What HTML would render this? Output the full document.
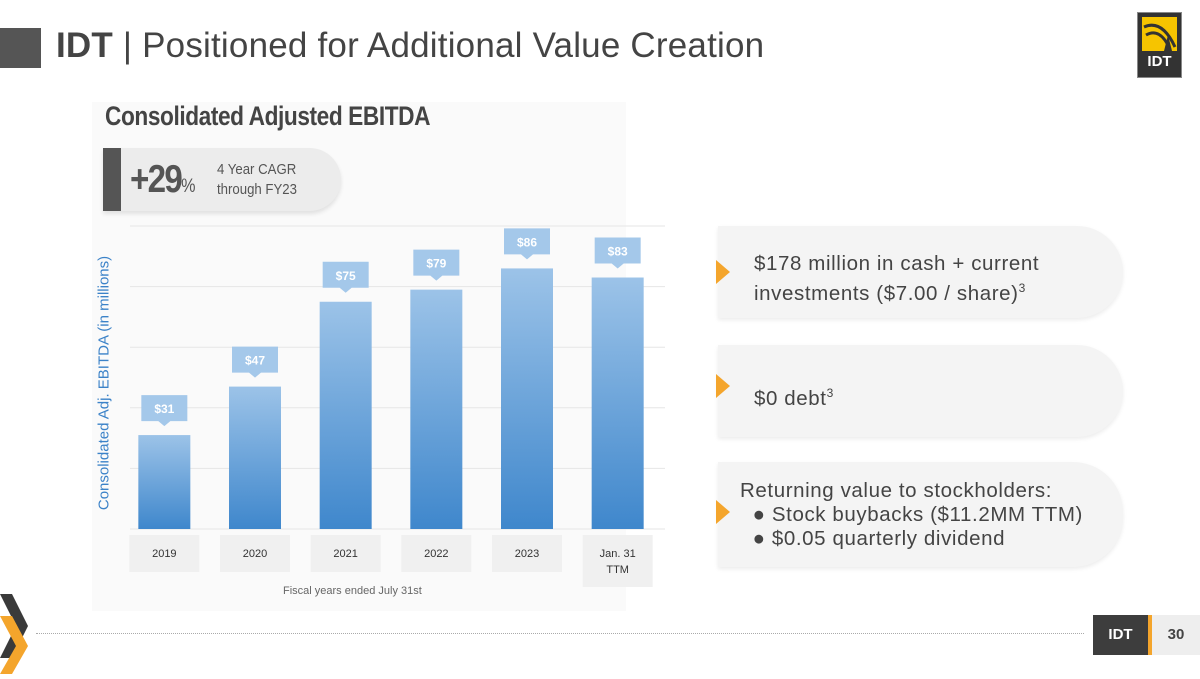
<!DOCTYPE html>
<html><head><meta charset="utf-8">
<style>
body{margin:0;width:1200px;height:674px;background:#fff;position:relative;overflow:hidden;font-family:"Liberation Sans",sans-serif}
.abs{position:absolute}
.card{position:absolute;left:718px;width:405px;background:#f4f4f4;border-radius:0 50px 50px 0;box-shadow:0 2px 4px rgba(0,0,0,0.08)}
.card .txt{position:absolute;left:36px;font-size:20.5px;color:#444;line-height:24px;letter-spacing:0.6px;white-space:nowrap}
.chev{position:absolute;left:716px;width:0;height:0;border-top:12px solid transparent;border-bottom:12px solid transparent;border-left:14px solid #f4a52c}
</style></head><body>
<div class="abs" style="left:0;top:28px;width:41px;height:40px;background:#555"></div>
<div class="abs" style="left:56px;top:26px;font-size:35px;color:#444;white-space:nowrap;letter-spacing:0.2px"><b>IDT</b> | Positioned for Additional Value Creation</div>
<div class="abs" style="left:1137px;top:12px;width:43px;height:64px;background:#333;border:1px solid #888">
 <div style="position:absolute;left:4px;top:4px;width:35px;height:34px;background:#f6c400;overflow:hidden">
  <svg width="35" height="34"><path d="M2,10 Q20,2 33,30" stroke="#333" stroke-width="3" fill="none"/><path d="M4,18 Q18,10 28,32" stroke="#333" stroke-width="3" fill="none"/><polygon points="22,34 26,18 30,34" fill="#333"/></svg>
 </div>
 <div style="position:absolute;left:0;top:40px;width:43px;text-align:center;color:#fff;font-weight:bold;font-size:15px">IDT</div>
</div>
<div class="abs" style="left:92px;top:102px;width:534px;height:509px;background:#fafafa"></div>
<div class="abs" style="left:105px;top:101px;font-size:27px;color:#444;font-weight:bold;letter-spacing:-0.5px;transform:scaleX(0.84);transform-origin:0 0;white-space:nowrap">Consolidated Adjusted EBITDA</div>
<div class="abs" style="left:103px;top:148px;width:238px;height:63px;background:#ececec;border-radius:0 32px 32px 0;box-shadow:0 3px 4px rgba(0,0,0,0.1)">
 <div style="position:absolute;left:0;top:0;width:18px;height:63px;background:#555"></div>
 <div style="position:absolute;left:27px;top:10px;font-size:39px;font-weight:bold;color:#555;letter-spacing:-2px;transform:scaleX(0.85);transform-origin:0 0;white-space:nowrap">+29<span style="font-size:19px;font-weight:normal;letter-spacing:0">%</span></div>
 <div style="position:absolute;left:114px;top:12px;font-size:15px;color:#555;line-height:20px;transform:scaleX(0.88);transform-origin:0 0;white-space:nowrap">4 Year CAGR<br>through FY23</div>
</div>
<div class="abs" style="left:104px;top:383px;transform:translate(-50%,-50%) rotate(-90deg);white-space:nowrap;color:#3b82c8;font-size:15px">Consolidated Adj. EBITDA (in millions)</div>
<svg class="abs" style="left:0;top:0" width="1200" height="674" id="chart">
<defs><linearGradient id="g" x1="0" y1="0" x2="0" y2="1"><stop offset="0" stop-color="#9cc3e8"/><stop offset="1" stop-color="#3f87cc"/></linearGradient></defs>
</svg>
<div class="abs" style="left:283px;top:585px;font-size:11px;color:#666">Fiscal years ended July 31st</div>
<div class="card" style="top:226px;height:92px"><div class="txt" style="top:26px">$178 million in cash + current<br>investments ($7.00 / share)<sup style="font-size:12px">3</sup></div></div>
<div class="chev" style="top:260px"></div>
<div class="card" style="top:345px;height:92px"><div class="txt" style="top:36px">$0 debt<sup style="font-size:12px">3</sup></div></div>
<div class="chev" style="top:374px"></div>
<div class="card" style="top:462px;height:105px"><div class="txt" style="left:22px;top:17px">Returning value to stockholders:<br>&nbsp;&nbsp;● Stock buybacks ($11.2MM TTM)<br>&nbsp;&nbsp;● $0.05 quarterly dividend</div></div>
<div class="chev" style="top:500px"></div>
<div class="abs" style="left:36px;top:633px;width:1048px;border-top:1px dotted #aaa"></div>
<div class="abs" style="left:0;top:594px;width:28px;height:80px">
<svg width="30" height="80"><polygon points="0,0 12,0 28,32 12,64 0,64 16,32" fill="#3a3a3a"/><polygon points="0,22 12,22 28,52 12,80 0,80 16,52" fill="#f4a52c"/></svg></div>
<div class="abs" style="left:1093px;top:615px;width:55px;height:40px;background:#3d3d3d;border-right:4px solid #f4a52c;color:#fff;font-weight:bold;font-size:15px;text-align:center;line-height:40px">IDT</div>
<div class="abs" style="left:1152px;top:615px;width:48px;height:40px;background:#eee;color:#444;font-weight:bold;font-size:15px;text-align:center;line-height:40px">30</div>
<script>
const categories=["2019","2020","2021","2022","2023","Jan. 31\nTTM"];
const values=[31,47,75,79,86,83];
const valueLabels=["$31","$47","$75","$79","$86","$83"];
const yTicks=[0,20,40,60,80,100];
const svg=document.getElementById('chart');
const NS='http://www.w3.org/2000/svg';
const y0=529,y1=226,x0=119,x1=663;
const yS=v=>y0-(v-0)/(100-0)*(y0-y1);
const step=(x1-x0)/categories.length;
const xC=i=>x0+step*(i+0.5);
function mk(t,a){const e=document.createElementNS(NS,t);for(const k in a)e.setAttribute(k,a[k]);svg.appendChild(e);return e;}
yTicks.forEach(t=>{const l=mk('line',{x1:130,x2:665,y1:yS(t),y2:yS(t),stroke:'#e6e6e6','stroke-width':1});

});
values.forEach((v,i)=>{
 const cx=xC(i),w=52;
 const r=mk('rect',{x:cx-w/2,y:yS(v),width:w,height:y0-yS(v),fill:'url(#g)'});
 
 
 const ty=yS(v)-14;
 const lb=mk('path',{d:`M${cx-23},${ty-26}h46v26h-17l-6,5l-6,-5h-17z`,fill:'#a4c8ea'});
 
 
 const t=mk('text',{x:cx,y:ty-8,'text-anchor':'middle','font-size':12,'font-weight':'bold',fill:'#fff'});
 t.textContent=valueLabels[i];
 
 
 const lines=categories[i].split('\n');
 const cb=mk('rect',{x:cx-35,y:535,width:70,height:lines.length>1?52:37,fill:'#f0f0f0'});
 
 
 lines.forEach((s,j)=>{const tt=mk('text',{x:cx,y:557+j*16,'text-anchor':'middle','font-size':11,fill:'#333'});tt.textContent=s;
 
 });
});
</script>
</body></html>
